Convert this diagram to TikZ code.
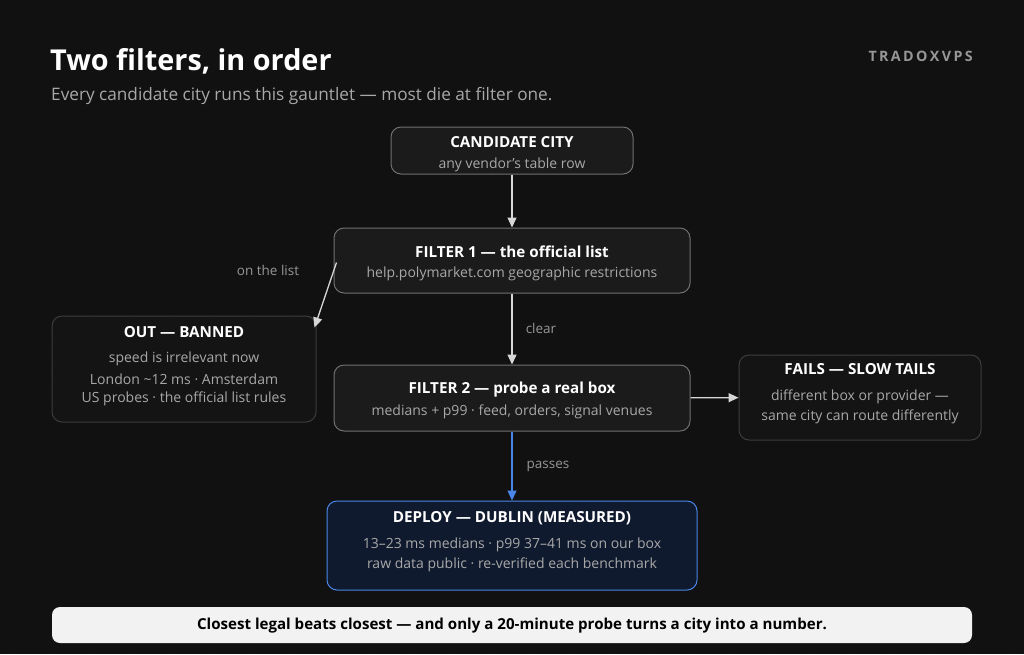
\documentclass[tikz,border=0pt]{standalone}
\usepackage{fontspec}
\setmainfont{Open Sans}
\usetikzlibrary{arrows.meta,positioning,calc}
\definecolor{PageBg}{RGB}{17,17,17}
\definecolor{GridDot}{RGB}{32,32,32}
\definecolor{BoxFill}{RGB}{27,27,27}
\definecolor{BoxLine}{RGB}{112,112,112}
\definecolor{DimLine}{RGB}{60,60,60}
\definecolor{DimFill}{RGB}{20,20,20}
\definecolor{SubGray}{RGB}{168,168,168}
\definecolor{LabelGray}{RGB}{150,150,150}
\definecolor{ArrowGray}{RGB}{215,215,215}
\definecolor{DeployFill}{RGB}{16,26,46}
\definecolor{DeployLine}{RGB}{74,134,232}
\definecolor{FootFill}{RGB}{242,242,242}
\tikzset{
  box/.style={draw=BoxLine, fill=BoxFill, rounded corners=10pt, line width=1pt, inner sep=0pt},
  dimbox/.style={box, draw=DimLine, fill=DimFill},
  boxtitle/.style={text=white, font=\fontsize{15.2}{18}\selectfont\bfseries, inner sep=0pt},
  boxsub/.style={text=SubGray, font=\fontsize{14}{16}\selectfont, inner sep=0pt},
  edgelabel/.style={text=LabelGray, font=\fontsize{13.5}{16}\selectfont, inner sep=0pt},
  arr/.style={-{Triangle[length=10pt,width=9pt]}, line width=1.3pt, ArrowGray},
}
\begin{document}
\begin{tikzpicture}[x=1pt,y=-1pt]
  % page and faint grid
  \fill[PageBg] (0,0) rectangle (1024,654);
  \foreach \i in {12,32,...,1012}
    \foreach \j in {12,32,...,652}
      \fill[GridDot] (\i,\j) circle (0.6);
  \useasboundingbox (0,0) rectangle (1024,654);

  % heading
  \node[anchor=west, text=white, font=\fontsize{28.8}{35}\selectfont\bfseries, inner sep=0pt] (title) at (50,61) {Two filters, in order};
  \node[anchor=west, text=SubGray, font=\fontsize{17.2}{20}\selectfont, inner sep=0pt] (subtitle) at (51,96) {Every candidate city runs this gauntlet --- most die at filter one.};
  \node[anchor=east, text=LabelGray, font=\fontsize{14.3}{17}\selectfont\bfseries, inner sep=0pt] (brand) at (973,56) {T\,R\,A\,D\,O\,X\,V\,P\,S};

  % boxes
  \node[box, minimum width=242pt, minimum height=47pt] (cand) at (512,150.5) {};
  \node[box, minimum width=356pt, minimum height=65pt] (filt1) at (512,260.5) {};
  \node[dimbox, minimum width=264pt, minimum height=106pt] (out) at (184,369) {};
  \node[box, minimum width=356pt, minimum height=66pt] (filt2) at (512,398) {};
  \node[dimbox, minimum width=242pt, minimum height=85pt] (fails) at (860,397.5) {};
  \node[box, draw=DeployLine, fill=DeployFill, minimum width=370pt, minimum height=89pt] (deploy) at (512,545.5) {};

  % box texts
  \node[boxtitle] (candT) at (512,142.5) {CANDIDATE CITY};
  \node[boxsub] (candS) at (512,165) {any vendor’s table row};
  \node[boxtitle] (filt1T) at (512,251.5) {FILTER 1 --- the official list};
  \node[boxsub] (filt1S) at (512,274) {help.polymarket.com geographic restrictions};
  \node[boxtitle] (outT) at (184,332.5) {OUT --- BANNED};
  \node[boxsub] (outS1) at (184,359) {speed is irrelevant now};
  \node[boxsub] (outS2) at (184,379) {London \textasciitilde 12 ms · Amsterdam};
  \node[boxsub] (outS3) at (184,399) {US probes · the official list rules};
  \node[boxtitle] (filt2T) at (512,389.5) {FILTER 2 --- probe a real box};
  \node[boxsub] (filt2S) at (512,412) {medians + p99 · feed, orders, signal venues};
  \node[boxtitle] (failsT) at (860,369.5) {FAILS --- SLOW TAILS};
  \node[boxsub] (failsS1) at (860,397) {different box or provider ---};
  \node[boxsub] (failsS2) at (860,417) {same city can route differently};
  \node[boxtitle] (deployT) at (512,518.5) {DEPLOY --- DUBLIN (MEASURED)};
  \node[boxsub] (deployS1) at (512,545) {13--23 ms medians · p99 37--41 ms on our box};
  \node[boxsub] (deployS2) at (512,565) {raw data public · re-verified each benchmark};

  % connectors
  \draw[arr] (cand) -- (filt1);
  \draw[arr] ([xshift=3pt,yshift=-2pt]filt1.west) -- ([xshift=-2pt,yshift=-12pt]out.north east);
  \draw[arr] (filt1) -- (filt2);
  \draw[arr] (filt2) -- (fails);
  \draw[arr, DeployLine] (filt2) -- (deploy);
  \node[edgelabel] (onlist) at (268,270.5) {on the list};
  \node[edgelabel] (clear) at (541,328.5) {clear};
  \node[edgelabel] (passes) at (548,466.5) {passes};

  % footer
  \node[fill=FootFill, rounded corners=8pt, minimum width=920pt, minimum height=36pt, inner sep=0pt] (foot) at (512,625) {};
  \node[text=black, font=\fontsize{15.1}{18}\selectfont\bfseries, inner sep=0pt] (footT) at (512,626) {Closest legal beats closest --- and only a 20-minute probe turns a city into a number.};
\end{tikzpicture}
\end{document}
